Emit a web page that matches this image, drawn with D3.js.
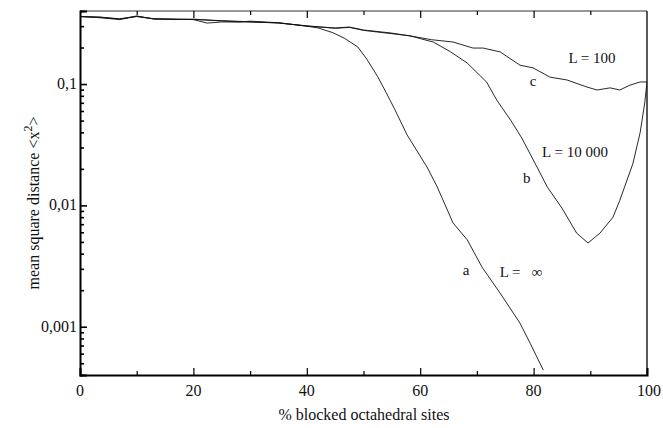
<!DOCTYPE html>
<html>
<head>
<meta charset="utf-8">
<script src="https://cdn.jsdelivr.net/npm/d3@7"></script>
</head>
<body style="margin:0">
<svg id="chart" width="663" height="428"></svg>
<script>
// ---- data ----
const xTicksMajor = [0, 20, 40, 60, 80, 100];
const xTicksMinor = [10, 30, 50, 70, 90];
const yTicksMajor = [0.1, 0.01, 0.001];
const yTickLabels = ["0,1", "0,01", "0,001"];

// curve c : L = 100
const cX = [0, 3.5, 7, 10, 13, 17, 20, 25, 30, 35, 40, 45, 47.5, 50, 55, 59.4, 62, 65.8, 69.3, 71.1, 74.1, 77.6, 79.9, 82.9, 85.9, 89.4, 91.2, 93.5, 95.2, 97, 98.8, 100];
const cY = [0.36, 0.357, 0.343, 0.364, 0.343, 0.34, 0.343, 0.331, 0.324, 0.32, 0.30, 0.29, 0.295, 0.279, 0.263, 0.244, 0.232, 0.222, 0.198, 0.198, 0.184, 0.143, 0.136, 0.114, 0.108, 0.0945, 0.0893, 0.093, 0.0893, 0.098, 0.104, 0.104];

// curve b : L = 10 000
const bX = [0, 3.5, 7, 10, 13, 17, 20, 25, 30, 35, 40, 45, 47.5, 50, 55, 58.2, 60, 62.3, 65.3, 68.3, 71.7, 73.5, 76, 77.9, 80.6, 82.4, 85, 87.6, 89.6, 91.7, 94, 95.2, 97.5, 98.8, 99.6, 100];
const bY = [0.36, 0.355, 0.345, 0.36, 0.345, 0.342, 0.34, 0.333, 0.326, 0.318, 0.302, 0.288, 0.293, 0.277, 0.26, 0.25, 0.237, 0.222, 0.185, 0.149, 0.104, 0.0738, 0.05, 0.036, 0.0207, 0.0142, 0.0095, 0.0059, 0.0049, 0.0059, 0.008, 0.011, 0.022, 0.04, 0.07, 0.104];

// curve a : L = infinity
const aX = [0, 3.5, 7, 10, 13, 17, 20, 22.4, 25, 28.2, 30, 35, 40, 42, 44.6, 46.6, 49, 50.6, 52.5, 54, 55.5, 57.7, 61.2, 63, 65.8, 68.3, 70.9, 74.1, 77.6, 79.4, 81.7];
const aY = [0.36, 0.352, 0.34, 0.362, 0.345, 0.343, 0.34, 0.318, 0.325, 0.324, 0.33, 0.32, 0.30, 0.29, 0.265, 0.239, 0.202, 0.160, 0.115, 0.085, 0.062, 0.038, 0.0207, 0.0142, 0.00715, 0.0052, 0.0031, 0.00189, 0.00107, 0.00073, 0.00044];

const curveLabels = [
  { t: "L = 100", x: 90.3, y: 0.149 },
  { t: "c", x: 79.9, y: 0.0964 },
  { t: "L = 10 000", x: 87.3, y: 0.0251 },
  { t: "b", x: 78.8, y: 0.0153 },
  { t: "a", x: 68.1, y: 0.00267 },
  { t: "L =   \u221E", x: 77.8, y: 0.00257 }
];

// ---- layout ----
const FONT = "Liberation Serif";
const svg = d3.select("#chart");
const L = 80, R = 647, T = 11, B = 375;
const x = d3.scaleLinear().domain([0, 100]).range([L, R]);
const y = d3.scaleLog().domain([0.0004, 0.4]).range([B, T]);

function txt(sel) {
  return sel.attr("font-family", FONT).style("font-family", "'Liberation Serif', serif").attr("fill", "#111");
}

svg.append("defs").append("clipPath").attr("id", "clip")
  .append("rect").attr("x", L).attr("y", T).attr("width", R - L).attr("height", B - T);

// frame
svg.append("line").attr("x1", L).attr("x2", R).attr("y1", T).attr("y2", T)
  .attr("stroke", "#333").attr("stroke-width", 1.2);
svg.append("line").attr("x1", R).attr("x2", R).attr("y1", T).attr("y2", B)
  .attr("stroke", "#222").attr("stroke-width", 1.5);

// minor log ticks
const minorY = [];
[0.0001, 0.001, 0.01, 0.1].forEach(d => {
  for (let k = 2; k <= 9; k++) {
    const v = d * k;
    if (v >= 0.0004 && v <= 0.4) minorY.push(v);
  }
});

// left axis (ticks inward)
const gL = svg.append("g").attr("transform", `translate(${L},0)`);
gL.call(d3.axisRight(y).tickValues(yTicksMajor).tickSize(7).tickFormat(""));
gL.append("g").call(d3.axisRight(y).tickValues(minorY).tickSize(4).tickFormat(""));
gL.selectAll("g > g > path.domain").remove();
gL.selectAll("path.domain").attr("stroke", "#000").attr("stroke-width", 2);
gL.selectAll(".tick line").attr("stroke", "#000").attr("stroke-width", 1.6);

// bottom axis (ticks inward)
const gB = svg.append("g").attr("transform", `translate(0,${B})`);
gB.call(d3.axisTop(x).tickValues(xTicksMajor).tickSize(7).tickFormat(""));
gB.append("g").call(d3.axisTop(x).tickValues(xTicksMinor).tickSize(4).tickFormat(""));
gB.selectAll("g > g > path.domain").remove();
gB.selectAll("path.domain").attr("stroke", "#000").attr("stroke-width", 2);
gB.selectAll(".tick line").attr("stroke", "#000").attr("stroke-width", 1.2);

// top axis (ticks inward)
const gT = svg.append("g").attr("transform", `translate(0,${T})`);
gT.call(d3.axisBottom(x).tickValues(xTicksMajor.filter(v => v > 0 && v < 100)).tickSize(7).tickFormat(""));
gT.append("g").call(d3.axisBottom(x).tickValues(xTicksMinor).tickSize(4).tickFormat(""));
gT.selectAll("path.domain").remove();
gT.selectAll(".tick line").attr("stroke", "#000").attr("stroke-width", 1.2);

// tick labels
yTicksMajor.forEach((v, i) => {
  txt(svg.append("text")).attr("x", 77).attr("y", y(v) + 5)
    .attr("text-anchor", "end").attr("font-size", 16).text(yTickLabels[i]);
});
xTicksMajor.forEach(v => {
  txt(svg.append("text")).attr("x", x(v) + (v === 100 ? 2 : 0)).attr("y", 396)
    .attr("text-anchor", "middle").attr("font-size", 16).text(v);
});

// axis titles
txt(svg.append("text")).attr("x", 364).attr("y", 420).attr("text-anchor", "middle")
  .attr("font-size", 16).text("% blocked octahedral sites");
const yt = txt(svg.append("text")).attr("transform", "translate(39,203) rotate(-90)")
  .attr("text-anchor", "middle").attr("font-size", 16);
yt.append("tspan").text("mean square distance <x");
yt.append("tspan").attr("baseline-shift", "super").attr("font-size", 12).text("2");
yt.append("tspan").text(">");

// curves
const line = d3.line().x(d => x(d[0])).y(d => y(d[1]));
const series = [d3.zip(cX, cY), d3.zip(bX, bY), d3.zip(aX, aY)];
svg.append("g").attr("clip-path", "url(#clip)")
  .selectAll("path").data(series).join("path")
  .attr("d", line).attr("fill", "none")
  .attr("stroke", "#111").attr("stroke-width", 0.9);

// labels
txt(svg.selectAll("text.cl").data(curveLabels).join("text").attr("class", "cl"))
  .attr("x", d => x(d.x)).attr("y", d => y(d.y))
  .attr("text-anchor", "middle").attr("font-size", 15)
  .style("white-space", "pre")
  .text(d => d.t);
</script>
</body>
</html>
